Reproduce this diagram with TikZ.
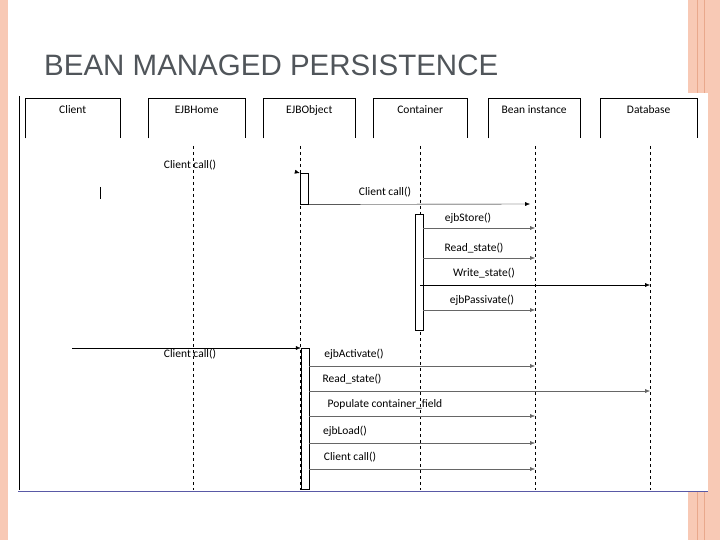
\documentclass[tikz,border=0pt]{standalone}
\usepackage{fontspec}
\setmainfont{Carlito}
\newfontfamily\titlefont{Liberation Sans}
\usetikzlibrary{arrows.meta,positioning,calc}
\definecolor{band}{HTML}{F8C9B5}
\definecolor{bandline}{HTML}{E9A88C}
\definecolor{titlegray}{HTML}{50555A}

\begin{document}
\begin{tikzpicture}[
    x=1pt, y=-1pt,
    head/.style={minimum height=40pt, anchor=north west, inner sep=0pt},
    life/.style={dashed, thin},
    act/.style={draw, fill=white, minimum width=8pt, anchor=north, inner sep=0pt},
    msg/.style={-{Latex[length=5pt,width=4pt]}, thin},
    soft/.style={msg, draw=gray!80!black},
    lbl/.style={font=\fontsize{11.5}{13}\selectfont, inner sep=1pt}
]
\useasboundingbox (0,0) rectangle (720,540);

% Slide frame
\fill[band] (0,0) rectangle (8,540);
\fill[band] (688,0) rectangle (720,540);
\foreach \bx in {697,704} {
    \draw[bandline] (\bx,0) -- (\bx,540);
}
\fill[white] (16,93) rectangle (708,492);
\node[font=\titlefont\fontsize{29.5}{33}\selectfont, text=titlegray, anchor=base west, inner sep=0pt] (title) at (44,76) {BEAN MANAGED PERSISTENCE};

% Diagram frame
\draw (19,96) -- (19,490);
\draw[gray!70!blue] (18,491) -- (708,491);

% Lifeline heads (open at the bottom)
\foreach \n/\x/\w/\t in {client/25/95/Client, home/148/97/EJBHome, object/263/92/EJBObject, cont/373/94/Container, bean/488/92/Bean instance, db/600/97/Database} {
    \node[head, minimum width=\w pt] (\n) at (\x,98) {};
    \node[lbl] at ($(\n.north)+(0,12)$) {\t};
    \draw (\n.south west) |- (\n.north east) -- (\n.south east);
}

% Lifelines
\coordinate (hometop) at (193,146);
\coordinate (objtop) at (300,146);
\coordinate (conttop) at (420,146);
\coordinate (beantop) at (535,146);
\coordinate (dbtop) at (650,146);
\foreach \n in {home, obj, cont, bean, db} {
    \draw[life] (\n top) -- ++(0,344);
}

% Activations
\node[act, minimum height=31pt] (objA) at (304,173) {};
\node[act, minimum height=116pt] (contA) at (419,214) {};
\node[act, minimum height=141pt] (objB) at (305,348) {};

% First call
\node[lbl] (c1) at (190,165) {Client call()};
\draw[-{Latex[length=5pt,width=4pt]}] (296,172) -- (objA.north west);
\draw (100,187) -- (100,199);
\coordinate (m1) at (530,204);
\draw[msg] (objA.south) -- (m1);
\node[lbl] (c2) at (385,192) {Client call()};

% Container to bean / database
\foreach \y/\t/\tx/\to in {228/ejbStore()/468/bean, 258/Read\_state()/474/bean, 310/ejbPassivate()/482/bean} {
    \draw[soft] (contA.east |- 0,\y) -- (\to top |- 0,\y);
    \node[lbl] at (\tx,\y-10) {\t};
}
\coordinate (w) at (420,285);
\draw[msg] (w) -- (dbtop |- w);
\node[lbl] (ws) at (484,273) {Write\_state()};

% Second call
\coordinate (cl) at (72,348);
\draw[msg] (cl) -- (objB.north west);
\node[lbl] (c3) at (190,354) {Client call()};

% EJBObject to bean / database
\foreach \y/\t/\tx/\to in {366/ejbActivate()/354/bean, 391/Read\_state()/352/db, 416/Populate container\_field/385/bean, 443/ejbLoad()/345/bean, 469/Client call()/350/bean} {
    \draw[soft] (objB.east |- 0,\y) -- (\to top |- 0,\y);
    \node[lbl] at (\tx,\y-12) {\t};
}
\end{tikzpicture}
\end{document}
